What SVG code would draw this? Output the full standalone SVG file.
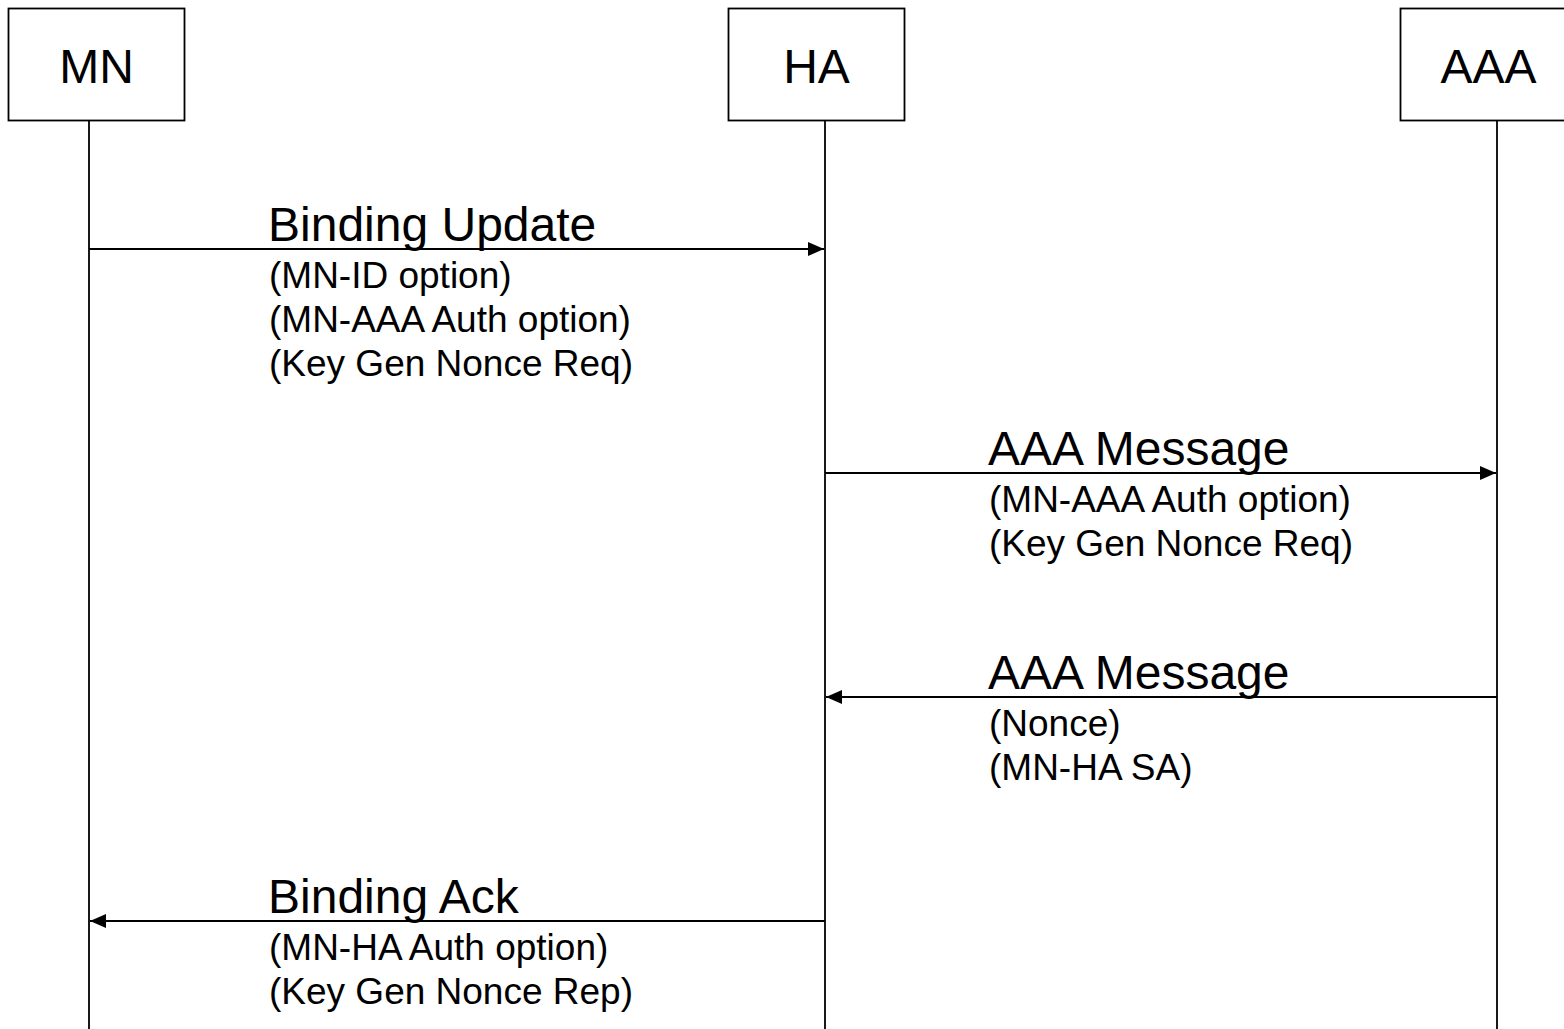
<svg xmlns="http://www.w3.org/2000/svg" width="1564" height="1029" viewBox="0 0 1564 1029">
  <style>
    .box { fill: #ffffff; stroke: #000000; stroke-width: 1.8; }
    .life { stroke: #000000; stroke-width: 1.8; fill: none; }
    .msg { stroke: #000000; stroke-width: 1.8; fill: none; marker-end: url(#head); }
    .name { font-family: "Liberation Sans", Arial, sans-serif; font-size: 48px; fill: #000000; text-anchor: middle; }
    .title { font-family: "Liberation Sans", Arial, sans-serif; font-size: 48px; fill: #000000; }
    .param { font-family: "Liberation Sans", Arial, sans-serif; font-size: 37px; fill: #000000; }
  </style>
  <defs>
    <marker id="head" markerUnits="userSpaceOnUse" markerWidth="18" markerHeight="18" viewBox="0 0 18 18" refX="16" refY="9" orient="auto">
      <path d="M0,2 L16,9 L0,16 Z" fill="#000000"/>
    </marker>
  </defs>
  <rect width="1564" height="1029" fill="#ffffff"/>

  <!-- lifelines -->
  <g id="lifelines">
    <line class="life" x1="89" y1="120" x2="89" y2="1029"/>
    <line class="life" x1="825" y1="120" x2="825" y2="1029"/>
    <line class="life" x1="1497" y1="120" x2="1497" y2="1029"/>
  </g>

  <!-- participants -->
  <g id="mn">
    <rect class="box" x="8.5" y="8.5" width="176" height="112"/>
    <text class="name" x="96.5" y="83">MN</text>
  </g>
  <g id="ha">
    <rect class="box" x="728.5" y="8.5" width="176" height="112"/>
    <text class="name" x="816.5" y="83">HA</text>
  </g>
  <g id="aaa">
    <rect class="box" x="1400.5" y="8.5" width="176" height="112"/>
    <text class="name" x="1488.5" y="83">AAA</text>
  </g>

  <!-- messages -->
  <g id="connectors">
    <line class="msg" x1="89" y1="249" x2="824" y2="249"/>
    <line class="msg" x1="825" y1="473" x2="1496" y2="473"/>
    <line class="msg" x1="1497" y1="697" x2="826" y2="697"/>
    <line class="msg" x1="825" y1="921" x2="90" y2="921"/>
  </g>

  <g id="label-binding-update">
    <text class="title" x="268" y="241">Binding Update</text>
    <text class="param" x="269" y="288">(MN-ID option)</text>
    <text class="param" x="269" y="332">(MN-AAA Auth option)</text>
    <text class="param" x="269" y="376">(Key Gen Nonce Req)</text>
  </g>
  <g id="label-aaa-request">
    <text class="title" x="988" y="465">AAA Message</text>
    <text class="param" x="989" y="512">(MN-AAA Auth option)</text>
    <text class="param" x="989" y="556">(Key Gen Nonce Req)</text>
  </g>
  <g id="label-aaa-answer">
    <text class="title" x="988" y="689">AAA Message</text>
    <text class="param" x="989" y="736">(Nonce)</text>
    <text class="param" x="989" y="780">(MN-HA SA)</text>
  </g>
  <g id="label-binding-ack">
    <text class="title" x="268" y="913">Binding Ack</text>
    <text class="param" x="269" y="960">(MN-HA Auth option)</text>
    <text class="param" x="269" y="1004">(Key Gen Nonce Rep)</text>
  </g>
</svg>
